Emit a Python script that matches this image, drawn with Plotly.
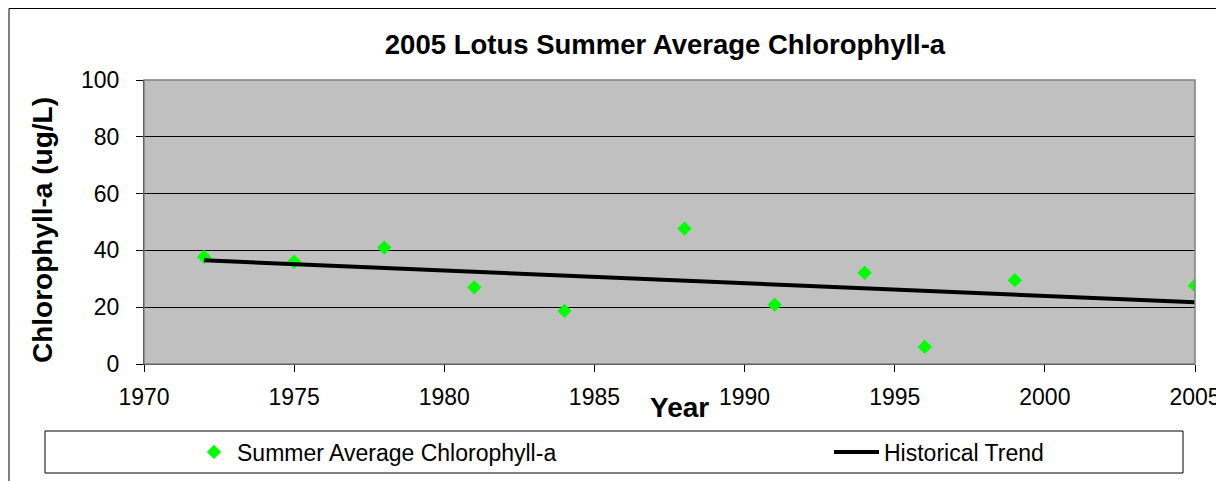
import plotly.graph_objects as go

# Data
years = [1972, 1975, 1978, 1981, 1984, 1988, 1991, 1994, 1996, 1999, 2005]
chl_a = [37.7, 36.0, 41.0, 27.0, 18.7, 47.7, 20.9, 32.1, 6.0, 29.5, 27.6]
trend_years = [1972, 2005]
trend_values = [36.5, 21.7]
x_ticks = [1970, 1975, 1980, 1985, 1990, 1995, 2000, 2005]
y_ticks = [0, 20, 40, 60, 80, 100]

# page has an 8px body margin; the figure fills the window from there
OFF = 8
W, H = 1224 - OFF, 481 - OFF
ML, MT = 144 - OFF, 80 - OFF
PR, PB = 1195 - OFF, 364 - OFF
MR, MB = W - PR, H - PB
PW, PH = W - ML - MR, H - MT - MB

def fx(x):  # reference-screen x -> paper fraction
    return (x - OFF - ML) / PW

def fy(y):  # reference-screen y -> paper fraction
    return (PB - (y - OFF)) / PH

FONT = "Liberation Sans, Arial, sans-serif"

fig = go.Figure()
fig.add_trace(go.Scatter(
    x=years, y=chl_a, mode="markers", name="Summer Average Chlorophyll-a",
    marker=dict(symbol="diamond", color="#00FF00", size=11, line=dict(width=0)),
    legend="legend",
))
fig.add_trace(go.Scatter(
    x=trend_years, y=trend_values, mode="lines", name="Historical Trend",
    line=dict(color="black", width=4),
    legend="legend2",
))

fig.update_layout(
    width=W, height=H,
    margin=dict(l=ML, r=MR, t=MT, b=MB, autoexpand=False),
    paper_bgcolor="white",
    plot_bgcolor="#C0C0C0",
    font=dict(family=FONT, color="black", size=23),
    title=dict(text="<b>2005 Lotus Summer Average Chlorophyll-a</b>",
               x=(665 - OFF) / W, xanchor="center", y=1 - (44 - OFF) / H, yanchor="middle",
               font=dict(size=27.5, family=FONT, color="black")),
    xaxis=dict(range=[1970, 2005], tickvals=x_ticks, ticks="outside", ticklen=7,
               tickcolor="black", showgrid=False, zeroline=False, showline=True,
               linecolor="black", linewidth=1, tickfont=dict(size=23),
               ticklabelstandoff=5, ticklabeloverflow="allow"),
    yaxis=dict(range=[0, 100], tickvals=y_ticks, ticks="outside", ticklen=7,
               tickcolor="black", showgrid=True, gridcolor="black", gridwidth=1,
               zeroline=False, showline=True, linecolor="black", linewidth=1,
               tickfont=dict(size=23), ticklabelstandoff=12, ticklabeloverflow="allow"),
    showlegend=True,
    legend=dict(orientation="h", x=fx(191), xanchor="left", y=fy(452), yanchor="middle",
                font=dict(size=23, family=FONT), itemwidth=36,
                bgcolor="rgba(0,0,0,0)", borderwidth=0),
    legend2=dict(orientation="h", x=fx(829), xanchor="left", y=fy(452), yanchor="middle",
                 font=dict(size=23, family=FONT), itemwidth=45,
                 bgcolor="rgba(0,0,0,0)", borderwidth=0),
    shapes=[
        # outer chart frame
        dict(type="rect", xref="paper", yref="paper", x0=fx(9), y0=fy(540), x1=fx(1300), y1=fy(8.5),
             line=dict(color="black", width=1), layer="below"),
        # plot area border
        dict(type="rect", xref="paper", yref="paper", x0=0, y0=0, x1=1, y1=1,
             line=dict(color="#808080", width=1.5)),
        # legend box
        dict(type="rect", xref="paper", yref="paper", x0=fx(45), y0=fy(473), x1=fx(1183), y1=fy(431),
             line=dict(color="black", width=1)),
    ],
    annotations=[
        dict(text="<b>Chlorophyll-a (ug/L)</b>", xref="paper", yref="paper",
             x=fx(42), y=fy(230), textangle=-90, showarrow=False,
             font=dict(size=28, family=FONT), xanchor="center", yanchor="middle"),
        dict(text="<b>Year</b>", xref="paper", yref="paper",
             x=fx(679), y=fy(407), showarrow=False,
             font=dict(size=28, family=FONT), xanchor="center", yanchor="middle"),
    ],
)

fig.write_html("out.html")
